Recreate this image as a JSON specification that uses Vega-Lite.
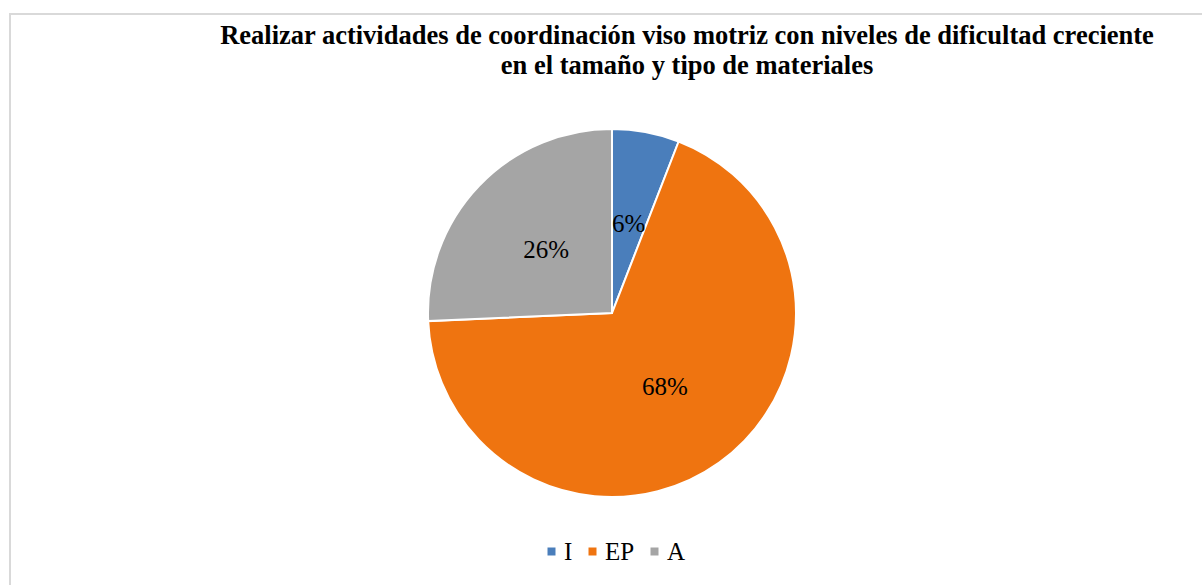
{
  "$schema": "https://vega.github.io/schema/vega-lite/v6.json",
  "autosize": "none",
  "padding": {"left": 10, "top": 14, "right": 0, "bottom": 0},
  "width": 1204,
  "height": 598,
  "background": "white",
  "view": {"stroke": "#D9D9D9", "strokeWidth": 2},
  "config": {"view": {"stroke": "#D9D9D9", "strokeWidth": 2}, "font": "Liberation Serif"},
  "title": {
    "text": ["Realizar actividades de coordinación viso motriz con niveles de dificultad creciente", "en el tamaño y tipo de materiales"],
    "font": "Liberation Serif",
    "fontSize": 26.5,
    "fontWeight": "bold",
    "color": "black",
    "anchor": "middle",
    "frame": "group",
    "dx": 75,
    "offset": -65,
    "lineHeight": 30
  },
  "data": {
    "values": [
      {"categoria": "I", "valor": 5.9, "etiqueta": "6%"},
      {"categoria": "EP", "valor": 68.4, "etiqueta": "68%"},
      {"categoria": "A", "valor": 25.7, "etiqueta": "26%"}
    ]
  },
  "encoding": {
    "theta": {"field": "valor", "type": "quantitative", "stack": true},
    "order": {"field": "categoria", "sort": "descending"}
  },
  "layer": [
    {
      "mark": {"type": "arc", "outerRadius": 184, "stroke": "white", "strokeWidth": 2},
      "encoding": {
        "color": {
          "field": "categoria",
          "type": "nominal",
          "scale": {"domain": ["I", "EP", "A"], "range": ["#4A7EBB", "#EF7410", "#A5A5A5"]},
          "legend": {
            "orient": "none",
            "direction": "horizontal",
            "legendX": 529,
            "legendY": 525,
            "title": null,
            "symbolType": "square",
            "symbolSize": 64,
            "symbolStrokeWidth": 0,
            "labelFont": "Liberation Serif",
            "labelFontSize": 25,
            "labelColor": "black",
            "labelOffset": 0,
            "columnPadding": 7,
            "gridAlign": "none"
          }
        }
      }
    },
    {
      "mark": {"type": "text", "radius": 91, "font": "Liberation Serif", "fontSize": 25, "color": "black"},
      "encoding": {"text": {"field": "etiqueta", "type": "nominal"}}
    }
  ]
}
